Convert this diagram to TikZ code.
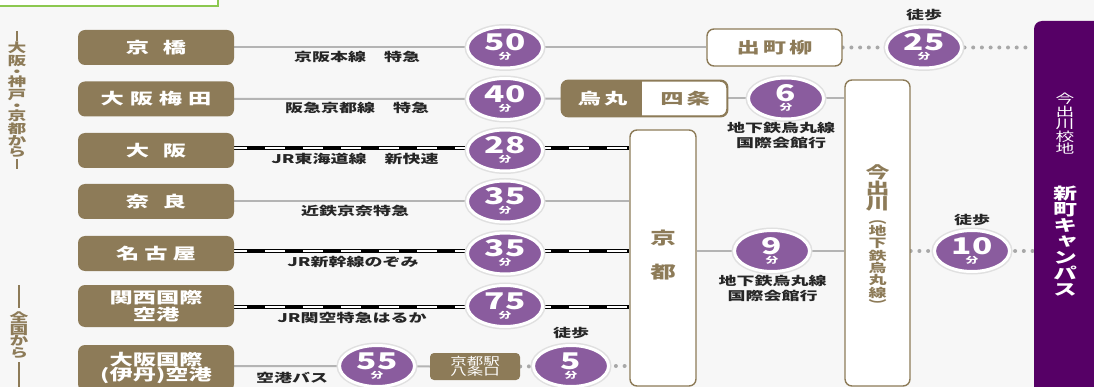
\documentclass[tikz,border=0pt]{standalone}
\usepackage{fontspec}
\setmainfont{Noto Sans CJK JP}[FakeStretch=1.5]
\newfontfamily\numfont{Noto Sans CJK JP}[FakeStretch=1.45]
\newfontfamily\vfont{Noto Sans CJK JP}[FakeStretch=1.5,RawFeature=+vert]
\usetikzlibrary{shapes.geometric}
\definecolor{brn}{HTML}{8D7B58}
\definecolor{cpur}{HTML}{8A5C9E}
\definecolor{dpur}{HTML}{560066}
\definecolor{bgc}{HTML}{F7F7F7}
\definecolor{lgray}{HTML}{B4B4B4}
\definecolor{dgray}{HTML}{A8A8A8}
\definecolor{grn}{HTML}{8CC850}
\pgfdeclarelayer{back}\pgfdeclarelayer{bg}\pgfsetlayers{back,bg,main}
\newcommand\fs[2]{\fontsize{#1}{#2}\selectfont}
\tikzset{
 bbox/.style={rounded corners=7pt, fill=brn, text=white, font=\fs{15.5}{15}\bfseries, minimum width=156pt, minimum height=35pt, inner sep=0pt, align=center},
 wbox/.style={rounded corners=7pt, fill=white, draw=brn, line width=1.4pt, text=brn, font=\fs{15.5}{15}\bfseries, inner sep=0pt, align=center},
 tc/.style={ellipse, fill=cpur, draw=white, line width=3pt, minimum width=75pt, minimum height=41pt, inner sep=0pt, preaction={draw=black!12, line width=6pt}},
 tcn/.style={text=white, font=\numfont\fs{23}{23}\bfseries, inner sep=0pt},
 tcu/.style={text=white, font=\fs{8.5}{8.5}\bfseries, inner sep=0pt},
 lbl/.style={font=\fs{12}{14.5}\bfseries, text=black!85, inner sep=0pt, align=center},
 walk/.style={font=\fs{12}{12}\bfseries, text=black!85, inner sep=0pt},
 vt/.style={align=center, inner sep=0pt},
 gline/.style={draw=lgray, line width=2pt},
 dline/.style={draw=dgray, line width=4pt, line cap=round, dash pattern=on 0pt off 8.7pt},
 jrblack/.style={draw=black, line width=4.4pt},
 jrwhite/.style={draw=white, line width=2.2pt, dash pattern=on 20pt off 18pt, dash phase=7pt},
 vbar/.style={draw=brn, line width=1.2pt}
}
\newcommand\tcirc[3]{%
 \node[tc] (#1) at (#2) {};
 \node[tcn] (#1n) at ([yshift=5pt]#1.center) {#3};
 \node[tcu] (#1u) at ([yshift=-9pt]#1.center) {分};
}
\begin{document}
\begin{tikzpicture}[x=1pt,y=-1pt]
\useasboundingbox (0,0) rectangle (1094,387);
\begin{pgfonlayer}{back}
\fill[bgc] (0,0) rectangle (1094,387);
\end{pgfonlayer}
\draw[grn, line width=2.5pt, fill=white] (-5,-5) rectangle (218,6);

% left vertical headings
\node[vt, text=brn, font=\vfont\fs{12.5}{10.8}\bfseries] (fromkansai) at (17,100) {大\\阪\\・\\神\\戸\\・\\京\\都\\か\\ら};
\draw[vbar] (17,31) -- (17,41);
\draw[vbar] (17,159) -- (17,169);
\node[vt, text=brn, font=\vfont\fs{12.5}{11.5}\bfseries] (fromall) at (19,335) {全\\国\\か\\ら};
\draw[vbar] (19,285) -- (19,308);
\draw[vbar] (19,362) -- (19,390);

% origin boxes
\node[bbox] (kyobashi) at (156,47.5) {京\kern14pt橋};
\node[bbox] (umeda) at (156,99) {大\kern6pt阪\kern6pt梅\kern6pt田};
\node[bbox] (osaka) at (156,150.5) {大\kern14pt阪};
\node[bbox] (nara) at (156,201.5) {奈\kern14pt良};
\node[bbox] (nagoya) at (156,253.5) {名\kern5pt古\kern5pt屋};
\node[bbox, minimum height=42pt, font=\fs{15.5}{17}\bfseries] (kix) at (156,306) {関西国際\\空港};
\node[bbox, minimum height=46pt, font=\fs{15.5}{15.5}\bfseries] (itami) at (156,368) {大阪国際\\(伊丹)空港};

% time circles
\tcirc{c50}{505,47.5}{50}
\tcirc{c40}{505,99}{40}
\tcirc{c28}{505,150.5}{28}
\tcirc{c35a}{505,201.5}{35}
\tcirc{c35b}{505,253.5}{35}
\tcirc{c75}{505,306}{75}
\tcirc{c55}{377,366}{55}
\tcirc{c5}{571,366}{5}
\tcirc{c6}{786,98.5}{6}
\tcirc{c9}{772,251}{9}
\tcirc{c25}{924,47.5}{25}
\tcirc{c10}{972,251}{10}

% intermediate boxes
\node[wbox, minimum width=135pt, minimum height=37pt] (demachi) at (774.5,47.5) {出\kern3pt町\kern3pt柳};
\node[wbox, minimum width=165pt, minimum height=35pt] (ks) at (644.5,98.5) {};
\begin{scope}
 \clip[rounded corners=7pt] (ks.south west) rectangle (ks.north east);
 \fill[brn] (ks.south west) rectangle ([xshift=81pt]ks.north west);
\end{scope}
\draw[brn, line width=1.4pt, rounded corners=7pt] (ks.south west) rectangle (ks.north east);
\node[text=white, font=\fs{15.5}{15}\bfseries, inner sep=0pt] (karasuma) at (602.5,98.5) {烏\kern3pt丸};
\node[text=brn, font=\fs{15.5}{15}\bfseries, inner sep=0pt] (shijo) at (685,98.5) {四\kern3pt条};
\node[rounded corners=4pt, fill=brn, text=white, font=\fs{11}{10.5}, minimum width=90pt, minimum height=27pt, inner sep=0pt, align=center] (hachijo) at (475,366.5) {京都駅\\八条口};
\node[wbox, minimum width=66pt, minimum height=256pt] (kyoto) at (663,258) {};
\node[vt, text=brn, font=\fs{17}{34}\bfseries] (kyototxt) at (663,255) {京\\都};
\node[wbox, minimum width=65pt, minimum height=306pt] (imade) at (877.5,233) {};
\node[vt, text=brn, font=\vfont\fs{16}{15.5}\bfseries] (imadetxt) at (877.5,188) {今\\出\\川};
\node[vt, text=brn, font=\vfont\fs{12}{12.3}\bfseries] (imadesub) at (877.5,265) {（\\地\\下\\鉄\\烏\\丸\\線\\）};
\node[rounded corners=8pt, fill=dpur, minimum width=80pt, minimum height=380pt, inner sep=0pt] (campus) at (1074,211) {};
\node[vt, text=white, font=\vfont\fs{12.5}{12.5}] (campus1) at (1065,124) {今\\出\\川\\校\\地};
\node[vt, text=white, font=\vfont\fs{16}{16}\bfseries] (campus2) at (1065,241) {新\\町\\キ\\ャ\\ン\\パ\\ス};

% labels
\node[lbl] (l1) at (357,57) {京阪本線　特急};
\node[lbl] (l2) at (357,108) {阪急京都線　特急};
\node[lbl] (l3) at (355,159) {JR東海道線　新快速};
\node[lbl] (l4) at (355,211) {近鉄京奈特急};
\node[lbl] (l5) at (353,262) {JR新幹線のぞみ};
\node[lbl] (l6) at (352,317.5) {JR関空特急はるか};
\node[lbl] (l7) at (292,378) {空港バス};
\node[lbl] (l8) at (781,135.5) {地下鉄烏丸線\\国際会館行};
\node[lbl] (l9) at (772.5,288.5) {地下鉄烏丸線\\国際会館行};
\node[walk] (w1) at (924,15) {徒歩};
\node[walk] (w2) at (571,333) {徒歩};
\node[walk] (w3) at (972,220) {徒歩};

% connectors
\begin{pgfonlayer}{bg}
 \draw[gline] (kyobashi.east) -- (c50.center) -- (demachi.west);
 \draw[dline] (demachi.east) -- (c25.center) -- (campus.west |- c25.center);
 \draw[gline] (umeda.east) -- (c40.center) -- (ks.west);
 \draw[gline] (ks.east) -- (c6.center) -- (imade.west |- c6.center);
 \coordinate (jr1a) at ([yshift=2.5pt]osaka.east);
 \coordinate (jr2a) at ([yshift=2.5pt]nagoya.east);
 \coordinate (jr3a) at ([yshift=-1pt]kix.east);
 \foreach \s in {jr1a,jr2a,jr3a}{
  \draw[jrblack] (\s) -- (kyoto.west |- \s);
  \draw[jrwhite] (\s) -- (kyoto.west |- \s);
 }
 \draw[gline] (nara.east) -- (kyoto.west |- nara.east);
 \draw[gline] (itami.east |- c55.center) -- (c55.center) -- (hachijo.west);
 \draw[dline] (hachijo.east) -- (c5.center) -- (kyoto.west |- c5.center);
 \draw[gline] (kyoto.east |- c9.center) -- (c9.center) -- (imade.west |- c9.center);
 \draw[dline] (imade.east |- c10.center) -- (c10.center) -- (campus.west |- c10.center);
\end{pgfonlayer}
\end{tikzpicture}
\end{document}
